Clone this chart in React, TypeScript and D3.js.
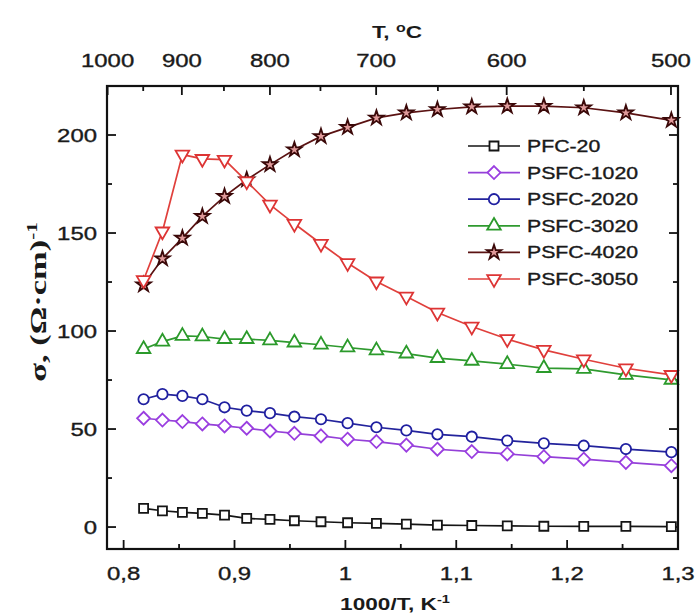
import * as d3 from "d3";
import { useEffect, useRef } from "react";

// 1000/T for measurement points (950 ... 500 °C, step 25)
const invT = [0.818, 0.835, 0.853, 0.871, 0.891, 0.911, 0.932, 0.954, 0.978, 1.002, 1.028, 1.055, 1.083, 1.114, 1.146, 1.179, 1.215, 1.253, 1.294];

const pfc20 = [9.5, 8.3, 7.5, 7.0, 6.1, 4.4, 3.9, 3.2, 2.7, 2.2, 1.9, 1.5, 1.0, 0.8, 0.6, 0.4, 0.3, 0.3, 0.2];
const psfc1020 = [55.5, 54.6, 53.8, 52.6, 51.6, 50.4, 49.0, 47.8, 46.5, 44.8, 43.6, 41.8, 39.7, 38.5, 37.3, 35.9, 34.6, 33.0, 31.3];
const psfc2020 = [65.2, 67.8, 66.9, 65.2, 61.1, 59.4, 58.1, 56.3, 55.0, 53.0, 50.9, 49.3, 47.3, 46.1, 44.1, 42.7, 41.5, 39.8, 38.2];
const psfc3020 = [90.8, 94.6, 97.5, 97.2, 95.9, 95.9, 95.2, 94.1, 93.0, 91.6, 90.1, 88.5, 86.2, 84.8, 83.1, 81.1, 80.7, 77.6, 75.1];
const psfc4020 = [123.6, 136.9, 147.4, 158.5, 168.7, 177.2, 184.9, 192.5, 199.3, 203.9, 208.7, 211.3, 213.0, 214.4, 214.7, 214.7, 213.9, 211.3, 207.5];
const psfc3050 = [126.0, 150.8, 190.0, 187.8, 187.4, 176.4, 164.5, 154.7, 144.5, 134.7, 125.3, 117.6, 109.4, 102.3, 95.9, 90.4, 85.6, 81.0, 77.6];

const names = ["PFC-20", "PSFC-1020", "PSFC-2020", "PSFC-3020", "PSFC-4020", "PSFC-3050"];
const values = [pfc20, psfc1020, psfc2020, psfc3020, psfc4020, psfc3050];
const lineColors = ["#151515", "#9440d8", "#23239c", "#2f9a2f", "#5a1212", "#e0403c"];
const markColors = ["#151515", "#9a3ee0", "#1f1fa0", "#2b9a2b", "#3a0808", "#dd3434"];
const shapes = ["square", "diamond", "circle", "triUp", "star", "triDown"];

const xTicks = [0.8, 0.9, 1.0, 1.1, 1.2, 1.3];
const xTickLabels = ["0,8", "0,9", "1", "1,1", "1,2", "1,3"];
const xMinor = [0.85, 0.95, 1.05, 1.15, 1.25];
const yTicks = [0, 50, 100, 150, 200];
const yMinor = [25, 75, 125, 175, 225];
const topTicks = [1000, 900, 800, 700, 600, 500];
const topMinor = [950, 850, 750, 650, 550];

const W = 699, H = 616;
const SX = 1.33; // text in the picture is stretched horizontally
const FONT = "'Liberation Sans', Arial, sans-serif";

function markerPath(shape: string) {
  if (shape === "square") return "M-4.5,-4.5H4.5V4.5H-4.5Z";
  if (shape === "diamond") return "M0,-6.5L6.5,0L0,6.5L-6.5,0Z";
  if (shape === "circle") return d3.symbol(d3.symbolCircle, 85)()!;
  if (shape === "triUp") return d3.symbol(d3.symbolTriangle, 80)()!;
  if (shape === "triDown") return d3.symbol(d3.symbolTriangle, 80)()!;
  return d3.symbol(d3.symbolStar, 65)()!;
}

export default function App() {
  const svgRef = useRef<SVGSVGElement>(null);

  useEffect(() => {
    const svg = d3.select(svgRef.current);
    svg.selectAll("*").remove();

    const x = d3.scaleLinear([0.785, 1.3], [107, 678]);
    const y = d3.scaleLinear([-11.2, 225], [549, 86]);
    const [x0, x1] = x.range();
    const [y0, y1] = y.range();

    const txt = (px: number, py: number, s: string, size: number, anchor = "middle", weight = "normal") =>
      svg.append("text")
        .attr("transform", `translate(${px},${py}) scale(${SX},1)`)
        .attr("text-anchor", anchor)
        .attr("font-family", FONT)
        .attr("font-size", size)
        .attr("font-weight", weight)
        .attr("fill", "#1a1a1a")
        .attr("stroke", "#1a1a1a")
        .attr("stroke-width", weight === "bold" ? 0 : 0.35)
        .text(s);

    // ticks (inward)
    const ticks = svg.append("g").attr("stroke", "#111").attr("stroke-width", 1.8);
    xTicks.forEach(v => {
      ticks.append("line").attr("x1", x(v)).attr("x2", x(v)).attr("y1", y0).attr("y2", y0 - 9);
    });
    xMinor.forEach(v => {
      ticks.append("line").attr("x1", x(v)).attr("x2", x(v)).attr("y1", y0).attr("y2", y0 - 5);
    });
    yTicks.forEach(v => {
      ticks.append("line").attr("x1", x0).attr("x2", x0 + 9).attr("y1", y(v)).attr("y2", y(v));
      ticks.append("line").attr("x1", x1).attr("x2", x1 - 9).attr("y1", y(v)).attr("y2", y(v));
    });
    yMinor.forEach(v => {
      ticks.append("line").attr("x1", x0).attr("x2", x0 + 5).attr("y1", y(v)).attr("y2", y(v));
      ticks.append("line").attr("x1", x1).attr("x2", x1 - 5).attr("y1", y(v)).attr("y2", y(v));
    });
    const tx = (t: number) => x(1000 / (t + 273));
    topTicks.forEach(t => {
      ticks.append("line").attr("x1", tx(t)).attr("x2", tx(t)).attr("y1", y1).attr("y2", y1 + 9);
    });
    topMinor.forEach(t => {
      ticks.append("line").attr("x1", tx(t)).attr("x2", tx(t)).attr("y1", y1).attr("y2", y1 + 5);
    });

    // series
    const line = d3.line<number>().x((_, i) => x(invT[i])).y(d => y(d));
    values.forEach((vals, k) => {
      svg.append("path").attr("d", line(vals)).attr("fill", "none")
        .attr("stroke", lineColors[k]).attr("stroke-width", 1.7);
      const p = markerPath(shapes[k]);
      svg.append("g").selectAll("path").data(vals).join("path")
        .attr("d", p)
        .attr("transform", (d, i) => `translate(${x(invT[i])},${y(d)})${shapes[k] === "triDown" ? " rotate(180)" : ""}`)
        .attr("fill", shapes[k] === "star" ? "#e09a9a" : "white")
        .attr("stroke", markColors[k]).attr("stroke-width", 1.8);
    });

    // frame
    svg.append("rect").attr("x", x0).attr("y", y1).attr("width", x1 - x0).attr("height", y0 - y1)
      .attr("fill", "none").attr("stroke", "#111").attr("stroke-width", 2.2);

    // tick labels
    xTicks.forEach((v, i) => txt(x(v), 580, xTickLabels[i], 18));
    yTicks.forEach(v => txt(97, y(v) + 7, String(v), 18, "end"));
    topTicks.forEach(t => txt(tx(t), 67, String(t), 18));

    // axis titles
    const bt = txt(395, 610, "1000/T, K", 17, "middle", "bold");
    bt.append("tspan").attr("dy", -7).attr("font-size", 11).text("-1");
    const tt = txt(397, 38, "T, ", 17, "middle", "bold");
    tt.append("tspan").attr("dy", -6).attr("font-size", 12).text("o");
    tt.append("tspan").attr("dy", 6).text("C");

    const yt = svg.append("text")
      .attr("transform", `translate(46,302) rotate(-90) scale(1.5,1)`)
      .attr("text-anchor", "middle")
      .attr("font-family", "'Liberation Serif', 'Times New Roman', serif")
      .attr("font-size", 23).attr("font-weight", "bold").attr("fill", "#1a1a1a")
      .text("σ, (Ω·cm)");
    yt.append("tspan").attr("dy", -9).attr("font-size", 14).text("-1");

    // legend
    const lg = svg.append("g");
    names.forEach((n, k) => {
      const ly = 146 + k * 26.6;
      lg.append("line").attr("x1", 468).attr("x2", 520).attr("y1", ly).attr("y2", ly)
        .attr("stroke", lineColors[k]).attr("stroke-width", 1.7);
      lg.append("path").attr("d", markerPath(shapes[k]))
        .attr("transform", `translate(494,${ly})${shapes[k] === "triDown" ? " rotate(180)" : ""}`)
        .attr("fill", shapes[k] === "star" ? "#e09a9a" : "white")
        .attr("stroke", markColors[k]).attr("stroke-width", 1.8);
      txt(527, ly + 6, n, 16, "start");
    });
  }, []);

  return (
    <svg ref={svgRef} width={W} height={H} viewBox={`0 0 ${W} ${H}`}
      style={{ position: "absolute", left: 0, top: 0, background: "white" }}
      xmlns="http://www.w3.org/2000/svg" />
  );
}
